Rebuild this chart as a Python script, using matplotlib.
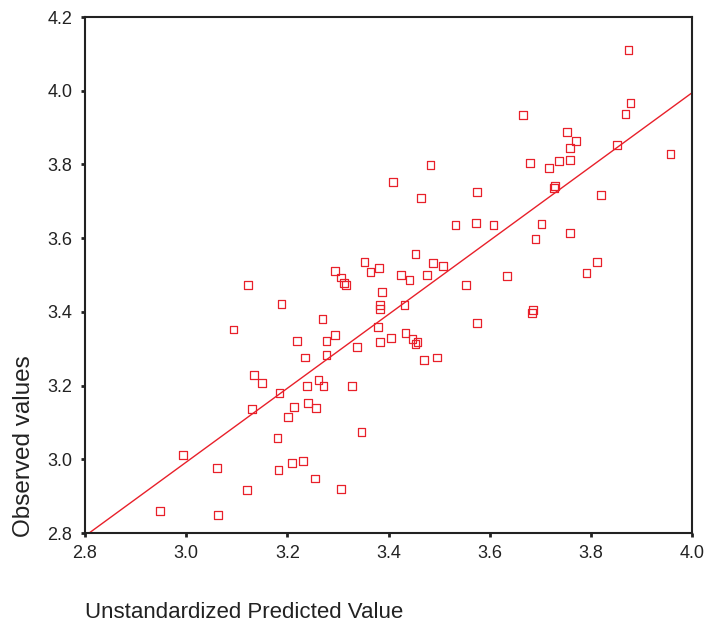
import numpy as np
import matplotlib.pyplot as plt

# predicted (x) and observed (y) values
predicted = [2.948, 3.063, 2.994, 3.061, 3.120, 3.182, 3.209, 3.231, 3.255, 3.306,
             3.180, 3.201, 3.213, 3.241, 3.257, 3.184, 3.239, 3.261, 3.271, 3.150,
             3.134, 3.130, 3.093, 3.122, 3.188, 3.219, 3.278, 3.294, 3.235, 3.278,
             3.269, 3.328, 3.346, 3.338, 3.383, 3.405, 3.433, 3.448, 3.454, 3.470,
             3.496, 3.379, 3.383, 3.383, 3.387, 3.431, 3.294, 3.312, 3.306, 3.316,
             3.352, 3.365, 3.381, 3.425, 3.441, 3.476, 3.488, 3.508, 3.454, 3.553,
             3.575, 3.634, 3.684, 3.686, 3.409, 3.483, 3.464, 3.575, 3.532, 3.573,
             3.607, 3.703, 3.690, 3.759, 3.812, 3.792, 3.727, 3.729, 3.820, 3.680,
             3.717, 3.737, 3.759, 3.759, 3.771, 3.753, 3.852, 3.957, 3.666, 3.868,
             3.879, 3.875, 3.457]
observed = [2.860, 2.849, 3.012, 2.976, 2.917, 2.971, 2.990, 2.995, 2.947, 2.919,
            3.058, 3.115, 3.142, 3.153, 3.139, 3.180, 3.199, 3.215, 3.199, 3.207,
            3.229, 3.136, 3.353, 3.473, 3.421, 3.321, 3.321, 3.337, 3.277, 3.283,
            3.381, 3.199, 3.074, 3.305, 3.318, 3.329, 3.343, 3.326, 3.313, 3.269,
            3.277, 3.359, 3.408, 3.419, 3.454, 3.419, 3.511, 3.478, 3.494, 3.473,
            3.535, 3.508, 3.519, 3.500, 3.486, 3.500, 3.533, 3.524, 3.557, 3.473,
            3.370, 3.497, 3.397, 3.405, 3.752, 3.798, 3.709, 3.725, 3.636, 3.641,
            3.636, 3.638, 3.598, 3.614, 3.535, 3.505, 3.736, 3.741, 3.717, 3.804,
            3.790, 3.809, 3.812, 3.845, 3.864, 3.888, 3.853, 3.828, 3.934, 3.937,
            3.967, 4.110, 3.318]

x_ticks = [2.8, 3.0, 3.2, 3.4, 3.6, 3.8, 4.0]
y_ticks = [2.8, 3.0, 3.2, 3.4, 3.6, 3.8, 4.0, 4.2]

plt.rcParams['font.family'] = ['Liberation Sans', 'DejaVu Sans']

fig = plt.figure(figsize=(7.04, 6.26), dpi=100)
ax = fig.add_axes([85 / 704, 93 / 626, 607 / 704, 516 / 626])

red = '#e8202a'
ax.scatter(predicted, observed, marker='s', s=28, facecolors='none',
           edgecolors=red, linewidths=0.9, zorder=3)

# least squares fit line across the full x range
slope, icpt = np.polyfit(predicted, observed, 1)
xs = np.array([2.806, 4.0])
ax.plot(xs, slope * xs + icpt, color=red, lw=1.0, zorder=2)

ax.set_xlim(2.8, 4.0)
ax.set_ylim(2.8, 4.2)
ax.set_xticks(x_ticks)
ax.set_yticks(y_ticks)
ax.set_xticklabels([f'{t:.1f}' for t in x_ticks])
ax.set_yticklabels([f'{t:.1f}' for t in y_ticks])
ax.tick_params(direction='out', length=3, width=2, labelsize=13, colors='#222222', pad=6)

for s in ax.spines.values():
    s.set_linewidth(1.5)
    s.set_color('#222222')

ax.set_xlabel('Unstandardized Predicted Value', fontsize=16, ha='left', va='center',
              color='#222222')
ax.xaxis.set_label_coords(0, -0.155)
ax.set_ylabel('Observed values', fontsize=17.5, ha='left', va='center', color='#222222')
ax.yaxis.set_label_coords(-0.1005, -0.008)

fig.savefig('out.png', dpi=100)
